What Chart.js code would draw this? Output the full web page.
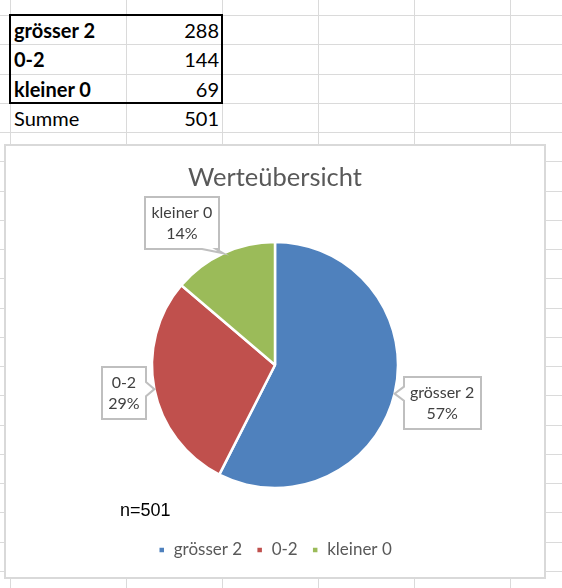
<!DOCTYPE html>
<html>
<head>
<meta charset="utf-8">
<title>Werteübersicht</title>
<script src="https://cdn.jsdelivr.net/npm/chart.js@4.4.1/dist/chart.umd.min.js"></script>
<style>
  html, body { margin: 0; padding: 0; background: #fff; }
  body { width: 562px; height: 588px; position: relative; overflow: hidden; font-family: Lato, "Noto Sans", sans-serif; }
  .vline { position: absolute; top: 0; width: 1px; height: 588px; background: #dadada; }
  .hline { position: absolute; left: 0; width: 562px; height: 1px; background: #dadada; }
  .cell { position: absolute; display: flex; align-items: flex-end; box-sizing: border-box;
          font-size: 20px; line-height: 20px; color: #000; padding: 0 3px 4px 4px; }
  .cell.num { justify-content: flex-end; }
  .cell.bold { font-weight: bold; }
  #tableBox { position: absolute; left: 9px; top: 14px; width: 210px; height: 86px; border: 2px solid #000; }
  #chartBox { position: absolute; left: 4px; top: 144px; width: 538px; height: 431px;
              border: 2px solid #d9d9d9; background: #fff; }
  #chartBox canvas { display: block; }
</style>
</head>
<body>
<div id="sheet"></div>
<div id="tableBox"></div>
<div id="chartBox"><canvas id="pie" width="538" height="431"></canvas></div>
<script>
// Data
const categories = ['grösser 2', '0-2', 'kleiner 0'];
const counts = [288, 144, 69];
const sliceColors = ['#4f81bd', '#c0504d', '#9bbb59'];
const sumLabel = 'Summe';
const chartTitle = 'Werteübersicht';

const total = counts.reduce((a, b) => a + b, 0);

// Spreadsheet grid
const colLines = [10, 126, 222, 318, 414, 510];
const rowTop = 15, rowH = 29.25;
const sheet = document.getElementById('sheet');
colLines.forEach(x => {
  const d = document.createElement('div');
  d.className = 'vline';
  d.style.left = x + 'px';
  sheet.appendChild(d);
});
for (let k = 0; k < 20; k++) {
  const d = document.createElement('div');
  d.className = 'hline';
  d.style.top = Math.round(rowTop + k * rowH) + 'px';
  sheet.appendChild(d);
}

function addCell(text, row, cls) {
  const d = document.createElement('div');
  d.className = 'cell ' + cls;
  d.textContent = text;
  d.style.left = '10px';
  d.style.width = '212px';
  d.style.top = Math.round(rowTop + row * rowH) + 'px';
  d.style.height = Math.round(rowH) + 'px';
  sheet.appendChild(d);
}
categories.forEach((c, i) => {
  addCell(c, i, 'bold');
  addCell(String(counts[i]), i, 'num');
});
addCell(sumLabel, categories.length, '');
addCell(String(total), categories.length, 'num');

// Callout labels like Excel data labels
const calloutPlugin = {
  id: 'callouts',
  afterDatasetsDraw(chart, args, opts) {
    const ctx = chart.ctx;
    const meta = chart.getDatasetMeta(0);
    const data = chart.data.datasets[0].data;
    const sum = data.reduce((a, b) => a + b, 0);
    ctx.save();
    ctx.font = opts.font;
    ctx.textAlign = 'center';
    ctx.textBaseline = 'middle';
    meta.data.forEach((arc, i) => {
      const p = arc.getProps(['x', 'y', 'startAngle', 'endAngle', 'outerRadius'], true);
      const mid = (p.startAngle + p.endAngle) / 2;
      const ax = p.x + Math.cos(mid) * p.outerRadius;
      const ay = p.y + Math.sin(mid) * p.outerRadius;
      const lines = [chart.data.labels[i], Math.round(data[i] / sum * 100) + '%'];
      const tw = Math.max(...lines.map(t => ctx.measureText(t).width));
      const w = Math.round(tw + 2 * opts.padX);
      const h = opts.lineHeight * 2 + 2 * opts.padY;
      const [dx, dy] = opts.offsets[i];
      const cx = ax + dx, cy = ay + dy;
      const L = Math.round(cx - w / 2), R = L + w, T = Math.round(cy - h / 2), B = T + h;
      const side = opts.sides[i];
      const hw = 7;
      const clamp = (v, lo, hi) => Math.max(lo, Math.min(hi, v));

      ctx.beginPath();
      ctx.moveTo(L, T);
      if (side === 'top') {
        const c = clamp(ax, L + 10, R - 10);
        ctx.lineTo(c - hw, T); ctx.lineTo(ax, ay); ctx.lineTo(c + hw, T);
      }
      ctx.lineTo(R, T);
      if (side === 'right') {
        const c = clamp(ay, T + 10, B - 10);
        ctx.lineTo(R, c - hw); ctx.lineTo(ax, ay); ctx.lineTo(R, c + hw);
      }
      ctx.lineTo(R, B);
      if (side === 'bottom') {
        const c = clamp(ax, L + 10, R - 10);
        ctx.lineTo(c + hw, B); ctx.lineTo(ax, ay); ctx.lineTo(c - hw, B);
      }
      ctx.lineTo(L, B);
      if (side === 'left') {
        const c = clamp(ay, T + 10, B - 10);
        ctx.lineTo(L, c + hw); ctx.lineTo(ax, ay); ctx.lineTo(L, c - hw);
      }
      ctx.closePath();
      ctx.fillStyle = '#fff';
      ctx.fill();
      ctx.lineWidth = 2;
      ctx.strokeStyle = '#bfbfbf';
      ctx.stroke();

      ctx.fillStyle = opts.color;
      ctx.fillText(lines[0], cx, (T + B) / 2 - opts.lineHeight / 2);
      ctx.fillText(lines[1], cx, (T + B) / 2 + opts.lineHeight / 2);
    });

    // n= text box
    ctx.textAlign = 'left';
    ctx.textBaseline = 'alphabetic';
    ctx.font = '18px "Liberation Sans", Arial, sans-serif';
    ctx.fillStyle = '#000';
    ctx.fillText('n=' + sum, 114, 370);
    ctx.restore();
  }
};

new Chart(document.getElementById('pie'), {
  type: 'pie',
  data: {
    labels: categories,
    datasets: [{
      data: counts,
      backgroundColor: sliceColors,
      borderColor: '#ffffff',
      borderWidth: 2.5,
      hoverOffset: 0,
      radius: 123
    }]
  },
  options: {
    responsive: false,
    animation: false,
    layout: { padding: { top: 0, bottom: 8.5, left: 0, right: 0 } },
    plugins: {
      title: {
        display: true,
        text: chartTitle,
        color: '#595959',
        font: { family: 'Lato', size: 25.5, weight: 'normal' },
        padding: { top: 16.7, bottom: 9.2 }
      },
      legend: {
        position: 'bottom',
        labels: {
          boxWidth: 7,
          boxHeight: 7,
          padding: 14,
          color: '#595959',
          font: { family: 'Lato', size: 17 }
        }
      },
      tooltip: { enabled: false },
      callouts: {
        font: '16px Lato',
        color: '#404040',
        padX: 6.5,
        padY: 5,
        lineHeight: 21,
        offsets: [[47.5, 9], [-30.5, 3.5], [-41.6, -30.7]],
        sides: ['left', 'right', 'bottom']
      }
    }
  },
  plugins: [calloutPlugin]
});
</script>
</body>
</html>
